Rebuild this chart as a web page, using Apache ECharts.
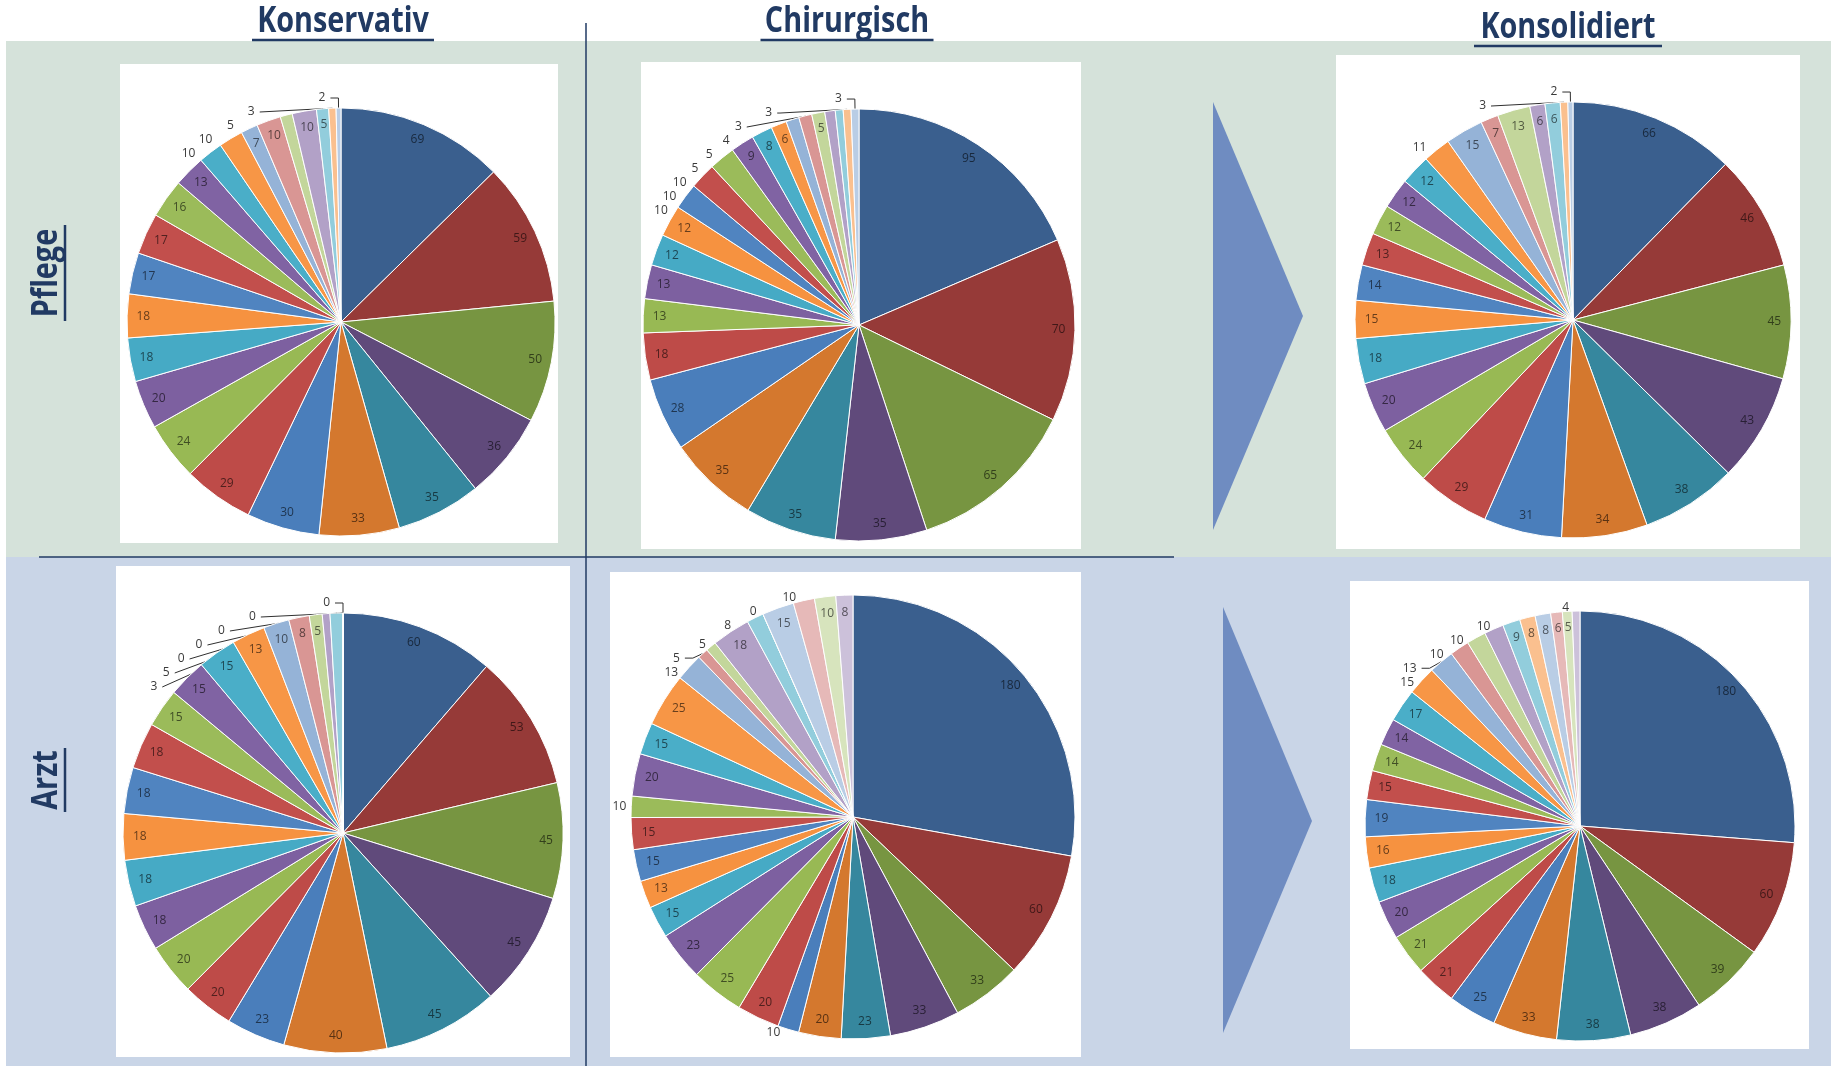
<!DOCTYPE html>
<html>
<head>
<meta charset="utf-8">
<title>Konservativ / Chirurgisch / Konsolidiert</title>
<script src="https://cdn.jsdelivr.net/npm/echarts@6/dist/echarts.min.js"></script>
<style>
  html, body { margin: 0; padding: 0; background: #ffffff; }
  #chart { width: 1831px; height: 1066px; }
</style>
</head>
<body>
<div id="chart"></div>
<script>
// Column and row captions
const columnTitles = ['Konservativ', 'Chirurgisch', 'Konsolidiert'];
const rowTitles = ['Pflege', 'Arzt'];

// Slice values, clockwise from 12 o'clock
const konservativPflege = [69, 59, 50, 36, 35, 33, 30, 29, 24, 20, 18, 18, 17, 17, 16, 13, 10, 10, 7, 10, 5, 10, 5, 3, 2];
const chirurgischPflege = [95, 70, 65, 35, 35, 35, 28, 18, 13, 13, 12, 12, 10, 10, 10, 9, 8, 6, 5, 5, 5, 4, 3, 3, 3];
const konsolidiertPflege = [66, 46, 45, 43, 38, 34, 31, 29, 24, 20, 18, 15, 14, 13, 12, 12, 12, 11, 15, 7, 13, 6, 6, 3, 2];
const konservativArzt = [60, 53, 45, 45, 45, 40, 23, 20, 20, 18, 18, 18, 18, 18, 15, 15, 15, 13, 10, 8, 5, 3, 5, 0, 0, 0, 0, 0];
const chirurgischArzt = [180, 60, 33, 33, 23, 20, 10, 20, 25, 23, 15, 13, 15, 15, 10, 20, 15, 25, 13, 5, 5, 18, 8, 0, 15, 10, 10, 8];
const konsolidiertArzt = [180, 60, 39, 38, 38, 33, 25, 21, 21, 20, 18, 16, 19, 15, 14, 14, 17, 15, 13, 10, 10, 10, 9, 8, 8, 6, 5, 4];

// Office-style slice palette (dark, normal, normal, light, lighter)
const palette = [
  '#3A5F8E', '#963A38', '#779541', '#604A7B', '#36879E', '#D4782E',
  '#4A7EBB', '#BE4B48', '#98B954', '#7D60A0', '#46AAC5', '#F69240',
  '#5084C0', '#C24F4C', '#9BBB5A', '#8063A3', '#4AAEC8', '#F79646',
  '#95B3D7', '#D99694', '#C3D69B', '#B2A1C7', '#92CDDC', '#FAC08F',
  '#B9CDE5', '#E6B9B8', '#D7E4BD', '#CCC1DA', '#B7DEE8', '#FCD5B5'
];

function darken(hex, f) {
  const n = parseInt(hex.slice(1), 16);
  const r = Math.round(((n >> 16) & 255) * f);
  const g = Math.round(((n >> 8) & 255) * f);
  const b = Math.round((n & 255) * f);
  return 'rgb(' + r + ',' + g + ',' + b + ')';
}

// Layout of each pie: centre, radius, slices labelled outside and those with a leader line (1-based)
const pies = [
  { values: konservativPflege, center: [341, 322], r: 214, outside: [17, 18, 21, 24, 25], leader: [24, 25] },
  { values: chirurgischPflege, center: [859, 325], r: 216, outside: [13, 14, 15, 19, 20, 22, 23, 24, 25], leader: [23, 24, 25] },
  { values: konsolidiertPflege, center: [1573, 320], r: 218, outside: [18, 24, 25], leader: [24, 25] },
  { values: konservativArzt, center: [343, 833], r: 220, outside: [22, 23, 24, 25, 26, 27, 28], leader: [22, 23, 24, 25, 26, 27, 28] },
  { values: chirurgischArzt, center: [853, 817], r: 222, outside: [7, 15, 19, 20, 21, 23, 24, 26], leader: [20] },
  { values: konsolidiertArzt, center: [1580, 826], r: 215, outside: [18, 19, 20, 21, 22, 28], leader: [19] }
];

// White plot panels behind the pies
const panels = [
  [120, 64, 438, 479], [641, 62, 440, 487], [1336, 55, 464, 494],
  [116, 566, 454, 491], [610, 572, 471, 485], [1350, 581, 459, 468]
];

const navy = '#213A63';
const series = [];
pies.forEach(function (p) {
  series.push({
    type: 'pie',
    center: p.center,
    radius: [0, p.r],
    startAngle: 90,
    clockwise: true,
    animation: false,
    silent: true,
    color: palette,
    label: { show: false },
    labelLine: { show: false },
    itemStyle: { borderColor: '#ffffff', borderWidth: 1 },
    data: p.values.map(function (v) { return { value: v }; })
  });
  series.push({
    type: 'pie',
    center: p.center,
    radius: [p.r * 0.82, p.r],
    startAngle: 90,
    clockwise: true,
    animation: false,
    silent: true,
    minShowLabelAngle: 0,
    avoidLabelOverlap: true,
    itemStyle: { color: 'transparent', borderWidth: 0 },
    data: p.values.map(function (v, i) {
      const out = p.outside.indexOf(i + 1) >= 0;
      const lead = p.leader.indexOf(i + 1) >= 0;
      return {
        value: v,
        label: out ? {
          show: true, position: 'outside', formatter: '{c}',
          color: '#3a3a3a', fontSize: 12, fontFamily: 'Open Sans'
        } : {
          show: true, position: 'inside', formatter: '{c}',
          color: darken(palette[i], 0.42), fontSize: 12, fontFamily: 'Open Sans'
        },
        labelLine: out ? {
          show: lead, length: lead ? 10 : 3, length2: lead ? 8 : 2,
          lineStyle: { color: '#303030', width: 1 }
        } : { show: false }
      };
    })
  });
});

const graphics = [
  // row bands
  { type: 'rect', z: -20, shape: { x: 6, y: 41, width: 1825, height: 516 }, style: { fill: '#D5E2DA' } },
  { type: 'rect', z: -20, shape: { x: 6, y: 557, width: 1825, height: 509 }, style: { fill: '#C9D5E7' } },
  // dividers
  { type: 'line', z: -5, shape: { x1: 586, y1: 23, x2: 586, y2: 1066 }, style: { stroke: navy, lineWidth: 1.5 } },
  { type: 'line', z: -5, shape: { x1: 39, y1: 557, x2: 1174, y2: 557 }, style: { stroke: navy, lineWidth: 1.5 } },
  // arrows
  { type: 'polygon', z: -5, shape: { points: [[1213, 102], [1213, 530], [1303, 316]] }, style: { fill: '#6F8CC1' } },
  { type: 'polygon', z: -5, shape: { points: [[1223, 607], [1223, 1033], [1312, 821]] }, style: { fill: '#6F8CC1' } }
];

panels.forEach(function (b) {
  graphics.push({ type: 'rect', z: -10, shape: { x: b[0], y: b[1], width: b[2], height: b[3] }, style: { fill: '#ffffff' } });
});

// column captions with underline
const colPos = [[343, 22, 40], [847, 22, 40], [1568, 28, 46]];
const colWidth = [182, 173, 188];
columnTitles.forEach(function (t, i) {
  graphics.push({
    type: 'text', x: colPos[i][0], y: colPos[i][1], scaleX: 0.8, z: 5,
    style: { text: t, font: 'bold 36px "Open Sans"', fill: navy, textAlign: 'center', textVerticalAlign: 'middle' }
  });
  graphics.push({
    type: 'line', z: 5,
    shape: { x1: colPos[i][0] - colWidth[i] / 2, y1: colPos[i][2], x2: colPos[i][0] + colWidth[i] / 2, y2: colPos[i][2] },
    style: { stroke: navy, lineWidth: 2.5 }
  });
});

// row captions, rotated, with underline
const rowPos = [[47, 273, 96], [47, 780, 64]];
rowTitles.forEach(function (t, i) {
  graphics.push({
    type: 'text', x: rowPos[i][0], y: rowPos[i][1], rotation: Math.PI / 2, scaleX: 0.8, z: 5,
    style: { text: t, font: 'bold 36px "Open Sans"', fill: navy, textAlign: 'center', textVerticalAlign: 'middle' }
  });
  graphics.push({
    type: 'line', z: 5,
    shape: { x1: 65, y1: rowPos[i][1] - rowPos[i][2] / 2, x2: 65, y2: rowPos[i][1] + rowPos[i][2] / 2 },
    style: { stroke: navy, lineWidth: 2.5 }
  });
});

const chart = echarts.init(document.getElementById('chart'), null, { renderer: 'canvas' });
chart.setOption({
  backgroundColor: '#ffffff',
  animation: false,
  graphic: graphics,
  series: series
});
</script>
</body>
</html>
